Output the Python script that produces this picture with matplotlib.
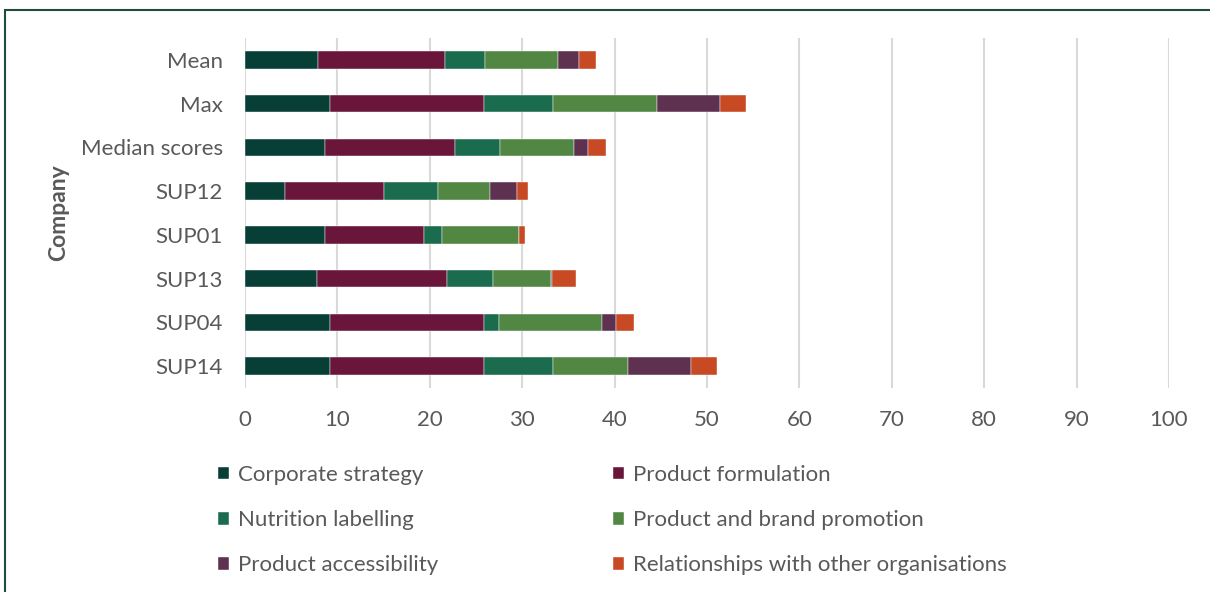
import matplotlib
matplotlib.use("Agg")
import matplotlib.pyplot as plt
import numpy as np
from matplotlib.patches import Rectangle

# Scores per company, listed top to bottom as drawn
companies = ["Mean", "Max", "Median scores", "SUP12", "SUP01", "SUP13", "SUP04", "SUP14"]

corporate_strategy = [7.86, 9.24, 8.61, 4.28, 8.61, 7.75, 9.24, 9.24]
product_formulation = [13.75, 16.65, 14.16, 10.81, 10.80, 14.16, 16.65, 16.65]
nutrition_labelling = [4.39, 7.49, 4.88, 5.85, 1.86, 4.95, 1.60, 7.49]
brand_promotion = [7.83, 11.18, 8.01, 5.55, 8.42, 6.30, 11.14, 8.05]
product_accessibility = [2.31, 6.89, 1.49, 2.98, 0.0, 0.08, 1.56, 6.89]
relationships = [1.83, 2.80, 1.97, 1.12, 0.56, 2.60, 1.90, 2.76]

series = [
    ("Corporate strategy", corporate_strategy, "#073f36"),
    ("Product formulation", product_formulation, "#6a163a"),
    ("Nutrition labelling", nutrition_labelling, "#1b6c4e"),
    ("Product and brand promotion", brand_promotion, "#518743"),
    ("Product accessibility", product_accessibility, "#5e3150"),
    ("Relationships with other organisations", relationships, "#c84a24"),
]

plt.rcParams["font.family"] = ["Lato", "DejaVu Sans"]
text_color = "#595959"
fs = 16

fig = plt.figure(figsize=(12.1, 5.92), dpi=100)
ax = fig.add_axes([245 / 1210, 1 - 388 / 592, 924 / 1210, 350 / 592])

y = np.arange(len(companies))
left = np.zeros(len(companies))
handles = {}
for name, vals, color in series:
    vals = np.array(vals)
    bars = ax.barh(y, vals, left=left, height=0.4, color=color,
                   edgecolor="white", linewidth=0.3, label=name)
    handles[name] = bars
    left += vals

ax.set_xlim(0, 100)
ax.set_ylim(len(companies) - 0.5, -0.5)
ax.set_xticks(range(0, 101, 10))
ax.set_yticks(y)
ax.set_yticklabels(companies)
ax.tick_params(axis="both", length=0, labelsize=fs, colors=text_color)
ax.tick_params(axis="x", pad=16)
ax.tick_params(axis="y", pad=16)
ax.grid(axis="x", color="#d9d9d9", linewidth=1.5)
ax.set_axisbelow(True)
for s in ax.spines.values():
    s.set_visible(False)

ax.set_ylabel("Company", fontsize=16.5, fontweight="bold", color=text_color, labelpad=8)

# Legend fills column-wise, so reorder to get the row layout
order = ["Corporate strategy", "Nutrition labelling", "Product accessibility",
         "Product formulation", "Product and brand promotion",
         "Relationships with other organisations"]
fig.legend([handles[n] for n in order], order, ncol=2, loc="upper left",
           bbox_to_anchor=(218 / 1210, 1 - 465 / 592), frameon=False,
           borderpad=0, borderaxespad=0,
           fontsize=fs, labelcolor=text_color, handlelength=0.5,
           handleheight=0.5, handletextpad=0.4, labelspacing=1.13,
           columnspacing=7.85)

# Outer frame line along top and left
fig.patches.append(Rectangle((5 / 1210, -0.1), 1.2, 1 - 10 / 592 + 0.1,
                             transform=fig.transFigure, fill=False,
                             edgecolor="#1e4d3e", linewidth=1.5))

fig.savefig("out.png", dpi=100)
